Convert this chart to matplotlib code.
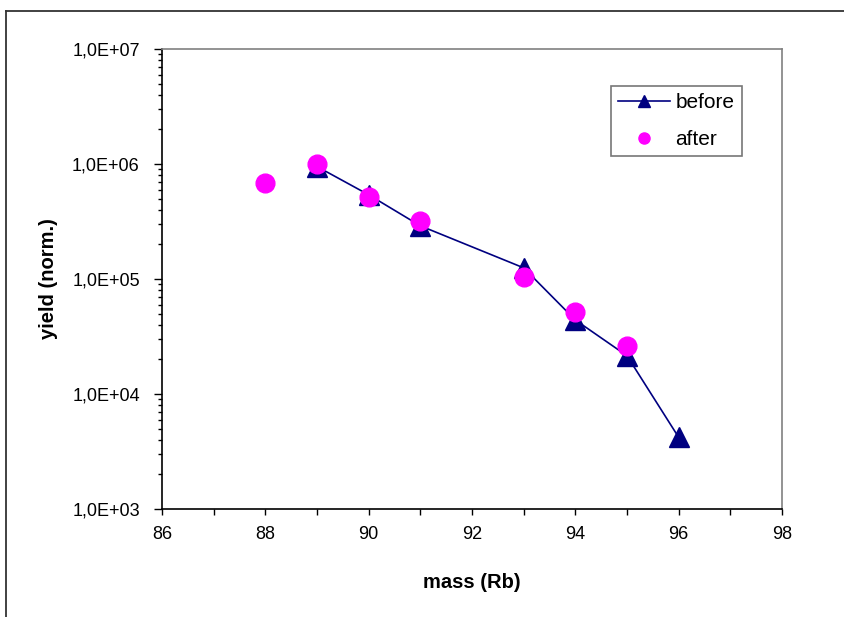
import matplotlib.pyplot as plt
import numpy as np
from matplotlib.lines import Line2D
from matplotlib.ticker import FixedLocator, FuncFormatter, LogLocator, NullFormatter

plt.rcParams["font.family"] = ["Liberation Sans", "DejaVu Sans"]

# yield per Rb mass, before and after
mass_before = [89, 90, 91, 93, 94, 95, 96]
yield_before = [9.5e5, 5.4e5, 2.9e5, 1.25e5, 4.4e4, 2.15e4, 4.2e3]
mass_after = [88, 89, 90, 91, 93, 94, 95]
yield_after = [6.9e5, 1.0e6, 5.2e5, 3.17e5, 1.05e5, 5.2e4, 2.6e4]

x_ticks = [86, 88, 90, 92, 94, 96, 98]
y_decades = [1e3, 1e4, 1e5, 1e6, 1e7]

W, H = 845, 617
fig = plt.figure(figsize=(W / 100, H / 100), dpi=100)
ax = fig.add_axes([162 / W, 1 - 509 / H, (782 - 162) / W, (509 - 49) / H])

navy = "#000080"
ax.plot(mass_before, yield_before, color=navy, lw=1.2, marker="^", ms=14.4,
        mec=navy, mfc=navy, zorder=3)
ax.plot(mass_after, yield_after, ls="none", marker="o", ms=13.5,
        mec="#FF00FF", mfc="#FF00FF", zorder=4)

ax.set_yscale("log")
ax.set_xlim(86, 98)
ax.set_ylim(1e3, 1e7)
ax.xaxis.set_major_locator(FixedLocator(x_ticks))
ax.xaxis.set_minor_locator(FixedLocator([87, 89, 91, 93, 95, 97]))
ax.yaxis.set_major_locator(FixedLocator(y_decades))
ax.yaxis.set_minor_locator(LogLocator(base=10, subs=np.arange(2, 10)))
ax.yaxis.set_minor_formatter(NullFormatter())


def sci_comma(v, pos):
    exp = int(round(np.log10(v)))
    return f"1,0E+{exp:02d}"


ax.yaxis.set_major_formatter(FuncFormatter(sci_comma))
ax.tick_params(axis="both", which="both", direction="out", color="black",
               labelsize=13, width=1)
ax.tick_params(axis="y", which="major", length=6, pad=10)
ax.tick_params(axis="y", which="minor", length=3)
ax.tick_params(axis="x", which="both", length=4, pad=8)

for side in ("left", "bottom"):
    ax.spines[side].set_color("black")
    ax.spines[side].set_linewidth(1.2)
for side in ("top", "right"):
    ax.spines[side].set_color("#808080")
    ax.spines[side].set_linewidth(1.2)

ax.set_xlabel("mass (Rb)", fontsize=14.5, fontweight="bold", labelpad=22)
ax.set_ylabel("yield (norm.)", fontsize=14.5, fontweight="bold", labelpad=10)

handles = [
    Line2D([], [], color=navy, lw=1.2, marker="^", ms=8.5, mfc=navy, mec=navy),
    Line2D([], [], ls="none", marker="o", ms=8, mfc="#FF00FF", mec="#FF00FF"),
]
leg = ax.legend(handles, ["before", "after"], loc="upper left",
                bbox_to_anchor=((611 - 162) / 620, (509 - 86) / 460),
                fontsize=15, frameon=True, fancybox=False, borderpad=0.35,
                handlelength=2.5, handletextpad=0.25, labelspacing=0.85,
                borderaxespad=0)
leg.get_frame().set_edgecolor("#555555")
leg.get_frame().set_linewidth(1.2)

# outer chart frame, cut off at the right and bottom
fig.add_artist(Line2D([6.5 / W, 6.5 / W], [1 - 10.5 / H, 0], color="#333333",
                      lw=1.3, transform=fig.transFigure))
fig.add_artist(Line2D([6.5 / W, 1], [1 - 10.5 / H, 1 - 10.5 / H], color="#333333",
                      lw=1.3, transform=fig.transFigure))

fig.savefig("out.png", dpi=100)
